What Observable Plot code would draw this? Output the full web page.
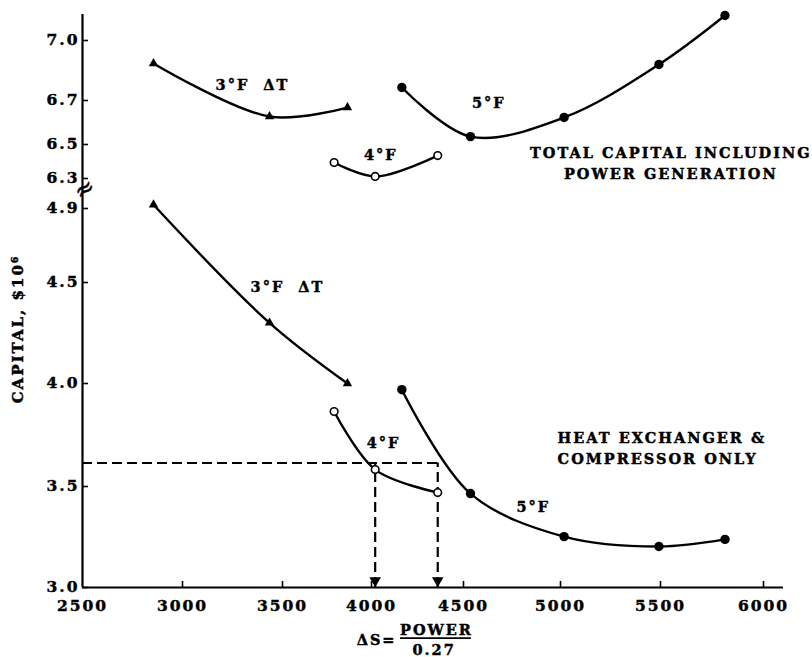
<!DOCTYPE html>
<html><head><meta charset="utf-8">
<script src="https://cdn.jsdelivr.net/npm/d3@7"></script>
<script src="https://cdn.jsdelivr.net/npm/@observablehq/plot@0.6"></script>
<style>body{margin:0;background:#fff} svg text{stroke:#000;stroke-width:0.45px;}</style>
</head><body><div id="chart"></div>
<script>
// ---- tick labels ----
const xTickValues = [2500, 3000, 3500, 4000, 4500, 5000, 5500, 6000];
const yTickValues = [3.0, 3.5, 4.0, 4.5, 4.9, 6.3, 6.5, 6.7, 7.0];

// ---- series (ΔS = power/0.27, capital in $10^6) ----
const dT3Power = [2855, 3435, 3865];
const dT3Total = [6.885, 6.627, 6.668];
const dT3HX    = [4.92, 4.30, 4.00];

const dT4Power = [3790, 4020, 4360];
const dT4Total = [6.394, 6.312, 6.435];
const dT4HX    = [3.864, 3.582, 3.47];

const dT5Power = [4165, 4536, 5018, 5492, 5813];
const dT5Total = [6.765, 6.536, 6.623, 6.88, 7.125];
const dT5HX    = [3.97, 3.465, 3.252, 3.203, 3.238];

// ---- read-off guide ----
const guideCapital = 3.614;
const guidePower = [4020, 4360];

// ---- annotations ----
const curveLabels = [
  {text: "3°F\u00a0 ΔT", power: 3350, capital: 6.775},
  {text: "4°F", power: 4050, capital: 6.435},
  {text: "5°F", power: 4630, capital: 6.686},
  {text: "3°F\u00a0 ΔT", power: 3528, capital: 4.475},
  {text: "4°F", power: 4065, capital: 3.709},
  {text: "5°F", power: 4860, capital: 3.396}
];
const totalLabel = [{text: "TOTAL CAPITAL INCLUDING\nPOWER GENERATION", power: 5550, capital: 6.40}];
const hxLabel = [{text: "HEAT EXCHANGER &\nCOMPRESSOR ONLY", power: 4985, capital: 3.694}];

const seriesDefs = [
  {name: "3°F", power: dT3Power, total: dT3Total, hx: dT3HX, marker: "tri"},
  {name: "4°F", power: dT4Power, total: dT4Total, hx: dT4HX, marker: "open"},
  {name: "5°F", power: dT5Power, total: dT5Total, hx: dT5HX, marker: "fill"}
];
const rows = [];
for (const s of seriesDefs) {
  s.power.forEach((p, i) => {
    rows.push({key: s.name + " total", power: p, capital: s.total[i], marker: s.marker});
    rows.push({key: s.name + " hx", power: p, capital: s.hx[i], marker: s.marker});
  });
}
rows.sort((a, b) => a.key.localeCompare(b.key) || a.power - b.power);

// Axis calibration of the original (hand-drawn) graph, incl. the broken capital axis
const W = 812, H = 657, ML = 82, MR = 29, MT = 14, MB = 70;
const xCal = d3.scaleLinear()
  .domain([2500, 3000, 3500, 4000, 4500, 5000, 5500, 6000, 6100])
  .range([82, 182, 282, 371, 463, 560, 660, 763, 783]);
const yCal = d3.scaleLinear()
  .domain([3.0, 3.5, 4.0, 4.5, 4.9, 5.0, 6.25, 6.3, 6.5, 6.7, 7.0, 7.13])
  .range([587, 486, 383, 282, 208, 189.5, 186.5, 178, 144, 100, 40, 14]);

const fmtY = d3.format(".1f");
const chart = Plot.plot({
  width: W, height: H,
  marginLeft: ML, marginRight: MR, marginTop: MT, marginBottom: MB,
  style: "font-family: 'DejaVu Serif', serif; font-weight: bold; color: #000; background: #fff; letter-spacing: 2px;",
  x: {type: "linear", transform: v => xCal(v), domain: [ML, W - MR]},
  y: {type: "linear", transform: v => yCal(v), domain: [H - MB, MT]},
  marks: [
    // axes lines and inward ticks
    Plot.ruleX([2500], {x: d => d, y1: 3.0, y2: 7.13, strokeWidth: 2.2}),
    Plot.ruleY([3.0], {y: d => d, x1: 2500, x2: 6100, strokeWidth: 2.2}),
    Plot.ruleY(yTickValues, {y: d => d, x1: 2500, x2: 2530, strokeWidth: 1.6}),
    Plot.ruleX(xTickValues.slice(1), {x: d => d, y1: 3.0, y2: 3.03, strokeWidth: 1.6}),
    Plot.axisX(xTickValues, {tickSize: 0, tickPadding: 12, tickFormat: d3.format("d"), label: null, fontSize: 15.5}),
    Plot.axisY(yTickValues, {tickSize: 0, tickPadding: 3, tickFormat: fmtY, label: null, fontSize: 15.5}),
    // axis break
    Plot.text(["≈"], {x: () => 2500, y: () => 5.6, text: d => d, fontSize: 24, rotate: -35, dx: 3, fontWeight: "normal"}),
    // guides
    Plot.ruleY([guideCapital], {y: d => d, x1: 2500, x2: guidePower[1], strokeWidth: 2.2, strokeDasharray: "10,5"}),
    Plot.ruleX(guidePower, {x: d => d, y1: 3.0, y2: guideCapital, strokeWidth: 2.2, strokeDasharray: "10,5"}),
    Plot.dot(guidePower, {x: d => d, y: () => 3.0, symbol: "triangle", r: 4.3, rotate: 180, dy: -7, fill: "black"}),
    // curves
    Plot.line(rows, {x: "power", y: "capital", z: "key", curve: "catmull-rom", strokeWidth: 2.4}),
    Plot.dot(rows.filter(d => d.marker === "tri"), {x: "power", y: "capital", symbol: "triangle", r: 3.5, fill: "black"}),
    Plot.dot(rows.filter(d => d.marker === "fill"), {x: "power", y: "capital", r: 4.7, fill: "black"}),
    Plot.dot(rows.filter(d => d.marker === "open"), {x: "power", y: "capital", r: 3.8, fill: "white", stroke: "black", strokeWidth: 1.6}),
    // labels
    Plot.text(curveLabels, {x: "power", y: "capital", text: "text", fontSize: 14.5}),
    Plot.text(totalLabel, {x: "power", y: "capital", text: "text", textAnchor: "middle", fontSize: 14.5, lineHeight: 1.5}),
    Plot.text(hxLabel, {x: "power", y: "capital", text: "text", textAnchor: "start", fontSize: 14.5, lineHeight: 1.5}),
    // axis titles
    Plot.text(["CAPITAL, $10⁶"], {x: () => 2500, y: () => 4.27, text: d => d, rotate: -90, dx: -64, fontSize: 15}),
    Plot.text(["ΔS="], {x: () => 4136, y: () => 3.0, text: d => d, textAnchor: "end", dy: 53, fontSize: 14.5}),
    Plot.text(["POWER"], {x: () => 4353, y: () => 3.0, text: d => d, dy: 43, fontSize: 14.5}),
    Plot.text(["0.27"], {x: () => 4340, y: () => 3.0, text: d => d, dy: 63, fontSize: 14.5})
  ]
});
document.getElementById("chart").appendChild(chart);

// fraction bar under "POWER"
d3.select(chart).selectAll("text").filter(function () { return this.textContent === "POWER"; })
  .each(function () {
    const b = this.getBBox();
    const pt = chart.createSVGPoint();
    pt.x = b.x; pt.y = b.y + b.height;
    const p = pt.matrixTransform(this.getScreenCTM()).matrixTransform(chart.getScreenCTM().inverse());
    d3.select(chart).append("line")
      .attr("x1", p.x).attr("x2", p.x + b.width - 2)
      .attr("y1", p.y).attr("y2", p.y)
      .attr("stroke", "black").attr("stroke-width", 1.6);
  });
</script>
</body></html>
